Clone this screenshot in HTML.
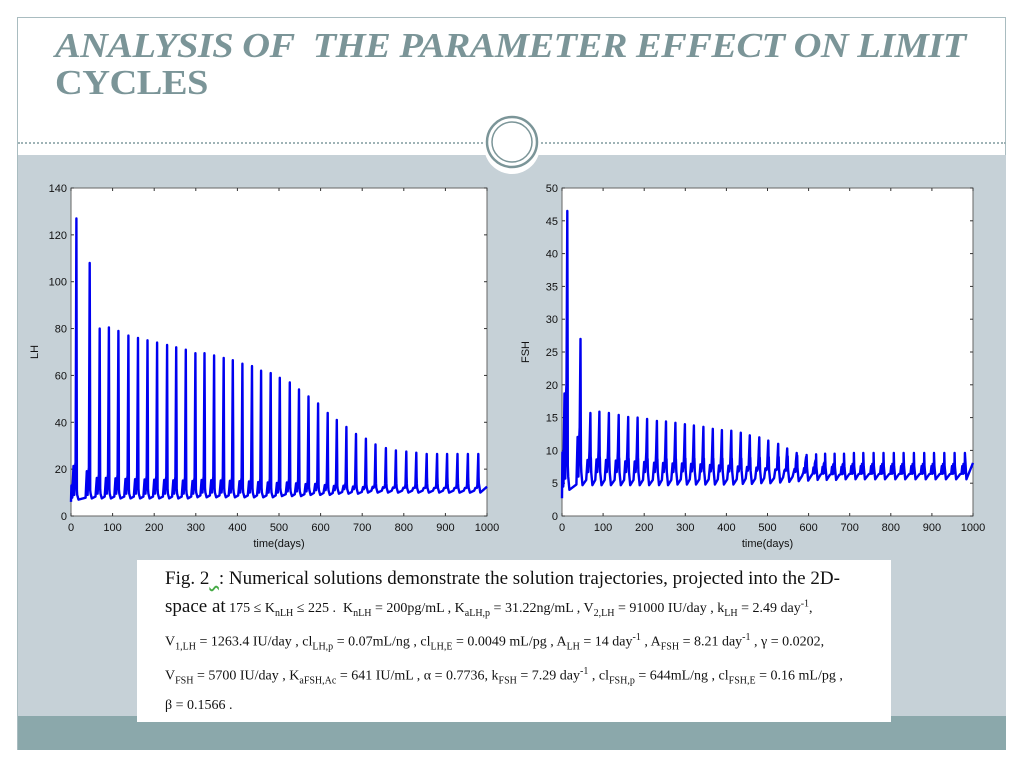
<!DOCTYPE html>
<html><head><meta charset="utf-8"><style>
body{margin:0;width:1024px;height:768px;background:#fff;position:relative;overflow:hidden;font-family:"Liberation Sans",sans-serif}
.abs{position:absolute}
#title{left:55px;top:27px;font-family:"Liberation Serif",serif;font-weight:bold;font-style:italic;font-size:35px;line-height:37px;color:#7b9598;letter-spacing:-0.5px;transform:scaleX(1.1);transform-origin:0 0;white-space:nowrap}
#title .l2{font-style:normal}
#caption{left:137px;top:560px;width:754px;height:162px;background:#fff;font-family:"Liberation Serif",serif;font-size:14px;color:#111}
#caption div{position:absolute;left:28px;white-space:nowrap}
sub{font-size:10px}sup{font-size:10px}
</style></head><body>
<div class="abs" style="left:17px;top:17px;width:989px;height:733px;border:1px solid #a9bcc0;border-bottom:none;box-sizing:border-box"></div>
<div class="abs" style="left:18px;top:155px;width:988px;height:595px;background:#c6d1d7"></div>
<div class="abs" style="left:18px;top:716px;width:988px;height:34px;background:#8ba8ab"></div>
<div class="abs" style="left:18px;top:142px;width:988px;border-top:2px dotted #9fb3b6"></div>
<div class="abs" id="title">ANALYSIS OF&nbsp; THE PARAMETER EFFECT ON LIMIT<br><span class="l2">CYCLES</span></div>
<svg class="abs" style="left:0;top:0" width="1024" height="768">
<circle cx="512" cy="146" r="28" fill="#fff"/>
<circle cx="512" cy="142" r="25" fill="none" stroke="#7b9598" stroke-width="2.5"/>
<circle cx="512" cy="142" r="20" fill="none" stroke="#7b9598" stroke-width="1.5"/>
<g id="left"></g><g id="right"></g>
</svg>
<div class="abs" id="caption">
<div style="top:8px;font-size:19px">Fig. 2<span style="text-decoration:underline wavy #4a4">&nbsp;&nbsp;</span>: Numerical solutions demonstrate the solution trajectories, projected into the 2D-</div>
<div style="top:36px"><span style="font-size:19px">space at</span> 175 ≤ K<sub>nLH</sub> ≤ 225 .&nbsp; K<sub>nLH</sub> = 200pg/mL , K<sub>aLH,p</sub> = 31.22ng/mL , V<sub>2,LH</sub> = 91000 IU/day , k<sub>LH</sub> = 2.49 day<sup>-1</sup>,</div>
<div style="top:72px">V<sub>1,LH</sub> = 1263.4 IU/day , cl<sub>LH,p</sub> = 0.07mL/ng , cl<sub>LH,E</sub> = 0.0049 mL/pg , A<sub>LH</sub> = 14 day<sup>-1</sup> , A<sub>FSH</sub> = 8.21 day<sup>-1</sup> , γ = 0.0202,</div>
<div style="top:106px">V<sub>FSH</sub> = 5700 IU/day , K<sub>aFSH,Ac</sub> = 641 IU/mL , α = 0.7736, k<sub>FSH</sub> = 7.29 day<sup>-1</sup> , cl<sub>FSH,p</sub> = 644mL/ng , cl<sub>FSH,E</sub> = 0.16 mL/pg ,</div>
<div style="top:138px">β = 0.1566 .</div>
</div>
<script>
const peakTimes=[13,45,69,91,114,138,161,184,207,231,253,276,299,321,344,367,389,412,435,457,480,502,526,548,571,594,617,639,662,685,709,732,757,781,806,830,855,880,904,929,954,979];
const lhPeaks=[127,108,80,80.5,79,77,76,75,74,73,72,71,69.5,69.5,68.5,67.5,66.5,65,64,62,61,59,57,54,51,48,44,41,38,35,33,30.5,29,28,27.5,27,26.5,26.5,26.5,26.5,26.5,26.5];
const lhTrough=[7,7,7.5,7.5,7.5,7.5,7.5,7.5,7.5,7.5,7.5,7.5,7.5,8,8,8,8,8,8,8,8,8,8.5,8.5,8.5,9,9,9,9.5,9.5,9.5,10,10,10,10,10,10,10,10,10,10,10];
const fshPeaks=[46.5,27,15.7,15.9,15.7,15.4,15.1,15,14.8,14.5,14.4,14.2,14,13.8,13.6,13.3,13.1,13,12.7,12.3,12,11.5,11,10.3,9.6,9,8.5,8.2,8,8,8,8,8,8,8,8,8,8,8,8,8,8];
const fshTrough=[3.7,4,4.7,4.7,4.7,4.7,4.7,4.7,4.7,4.7,4.7,4.7,4.8,4.8,4.8,4.8,4.8,4.8,4.8,4.9,4.9,5,5,5.1,5.2,5.3,5.4,5.5,5.5,5.5,5.6,5.6,5.6,5.6,5.6,5.6,5.6,5.6,5.6,5.6,5.6,5.6];
const xTicks=[0,100,200,300,400,500,600,700,800,900,1000];
const lhTicks=[0,20,40,60,80,100,120,140];
const fshTicks=[0,5,10,15,20,25,30,35,40,45,50];
const NS='http://www.w3.org/2000/svg';
function mk(tag,attrs,parent){const e=document.createElementNS(NS,tag);for(const k in attrs)e.setAttribute(k,attrs[k]);parent.appendChild(e);return e;}
function chart(g,x0,x1,ymax,yticks,peaks,trough,bumpFrac,ylabel,name){
  const y0=516,y1=188;
  const X=t=>x0+(t/1000)*(x1-x0), Y=v=>y0-(v/ymax)*(y0-y1);
  const bg=mk('rect',{x:x0,y:y1,width:x1-x0,height:y0-y1,fill:'#fff',stroke:'#666','stroke-width':1},g);
  
  
  xTicks.forEach(t=>{
    mk('line',{x1:X(t),x2:X(t),y1:y0,y2:y0-3,stroke:'#333'},g);
    mk('line',{x1:X(t),x2:X(t),y1:y1,y2:y1+3,stroke:'#333'},g);
    const tx=mk('text',{x:X(t),y:y0+15,'text-anchor':'middle','font-size':11,fill:'#111'},g);
    tx.textContent=t;
    
    
  });
  yticks.forEach(v=>{
    mk('line',{x1:x0,x2:x0+3,y1:Y(v),y2:Y(v),stroke:'#333'},g);
    mk('line',{x1:x1,x2:x1-3,y1:Y(v),y2:Y(v),stroke:'#333'},g);
    const tx=mk('text',{x:x0-4,y:Y(v)+4,'text-anchor':'end','font-size':11,fill:'#111'},g);
    tx.textContent=v;
    
    
  });
  const xl=mk('text',{x:(x0+x1)/2,y:y0+31,'text-anchor':'middle','font-size':11,fill:'#111'},g);
  xl.textContent='time(days)';
  
  
  const yl=mk('text',{x:0,y:0,'text-anchor':'middle','font-size':11,fill:'#111',transform:`translate(${x0-33},${(y0+y1)/2}) rotate(-90)`},g);
  yl.textContent=ylabel;
  
  
  const pts=[[0,trough[0]-1],[1,trough[0]+6],[8,trough[0]+6]];
  let tp=null;
  peakTimes.forEach((t,i)=>{
    const tr=trough[i], bump=tr+(peaks[i]-tr)*bumpFrac;
    if(tp!==null){pts.push([tp+2,tr+2],[tp+5,tr]);}
    pts.push([t-10,tr+0.8],[t-7,bump],[t-5,tr+2],[t-3,bump],[t-2,bump+1.5],[t,peaks[i]],[t+0.8,peaks[i]*0.4+tr*0.6],[t+1.2,tr+4]);
    tp=t;
  });
  pts.push([tp+5,trough[trough.length-1]],[1000,trough[trough.length-1]+2.5]);
  const d=pts.filter(p=>p[0]<=1000).map((p,i)=>(i?'L':'M')+X(Math.max(0,p[0])).toFixed(1)+' '+Y(p[1]).toFixed(1)).join(' ');
  const path=mk('path',{d:d,fill:'none',stroke:'#0000f0','stroke-width':2.4,'stroke-linejoin':'round'},g);
  
  
}
chart(document.getElementById('left'),71,487,140,lhTicks,lhPeaks,lhTrough,0.12,'LH','lh-chart');
chart(document.getElementById('right'),562,973,50,fshTicks,fshPeaks,fshTrough,0.35,'FSH','fsh-chart');
</script>
</body></html>
